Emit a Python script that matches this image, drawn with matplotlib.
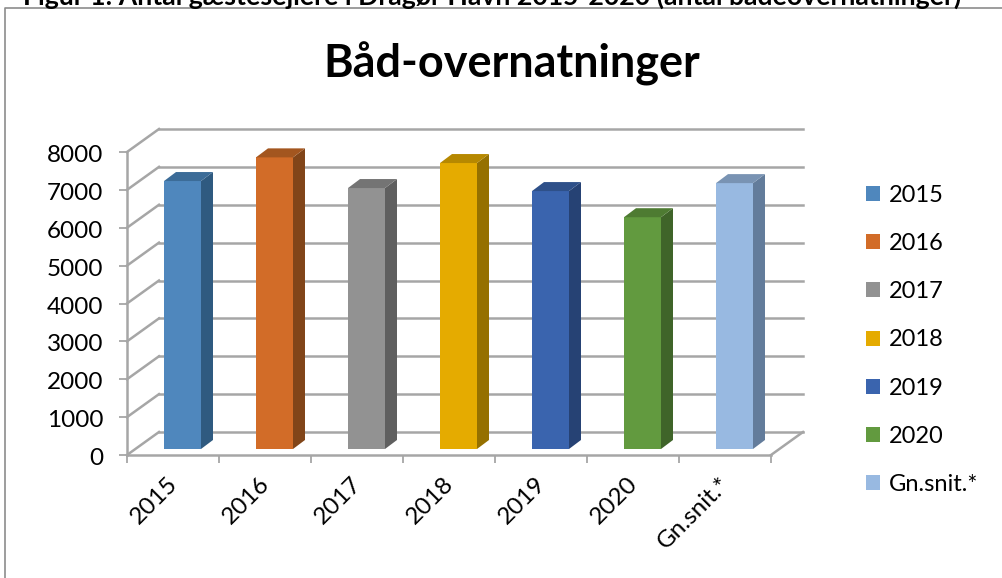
import matplotlib
matplotlib.use("Agg")
import matplotlib.pyplot as plt
from matplotlib.patches import Polygon, Patch
from matplotlib.transforms import ScaledTranslation

plt.rcParams['font.family'] = ['Lato', 'DejaVu Sans']

categories = ['2015', '2016', '2017', '2018', '2019', '2020', 'Gn.snit.*']
values = [7075, 7700, 6890, 7550, 6810, 6120, 7020]
front = ['#4f87bd', '#d26c28', '#929292', '#e5ab00', '#3a64ae', '#629a3f', '#98b9e1']
side = ['#2f5a80', '#814519', '#5f5f5f', '#957000', '#264274', '#3f6429', '#637c9b']
top = ['#3c6c98', '#a3561f', '#747474', '#b68800', '#2e5089', '#4e7b32', '#7993b3']
yticks = [0, 1000, 2000, 3000, 4000, 5000, 6000, 7000, 8000]

W, H = 1003, 578
fig = plt.figure(figsize=(W / 100, H / 100), dpi=100)
ax = fig.add_axes([127 / W, 1 - 455 / H, 644 / W, 303 / H])
ax.set_xlim(0, 7)
ax.set_ylim(0, 8000)
ax.patch.set_visible(False)

# data units per pixel, depth is faked with offsets
ux = 7 / 644
uy = 8000 / 303
wall_dx, wall_dy = 32 * ux, 23 * uy
bar_dx, bar_dy = 12 * ux, 9 * uy
base_dx, base_dy = 9.5 * ux, 6 * uy
grid = '#a6a6a6'

for v in yticks:
    ax.plot([0, wall_dx], [v, v + wall_dy], color=grid, lw=1.8, clip_on=False, zorder=1)
    ax.plot([wall_dx, 7 + wall_dx], [v + wall_dy, v + wall_dy], color=grid, lw=1.8, clip_on=False, zorder=1)
ax.plot([7, 7 + wall_dx], [0, wall_dy], color=grid, lw=1.8, clip_on=False, zorder=1)

width = 37 * ux
for i, val in enumerate(values):
    x0 = i + 0.5 + base_dx - width / 2
    x1 = x0 + width
    ax.bar(x0 + width / 2, val, width=width, bottom=base_dy, color=front[i], zorder=3)
    y1 = val + base_dy
    ax.add_patch(Polygon([(x1, base_dy), (x1 + bar_dx, base_dy + bar_dy), (x1 + bar_dx, y1 + bar_dy), (x1, y1)],
                         color=side[i], lw=0, zorder=3, clip_on=False))
    ax.add_patch(Polygon([(x0, y1), (x1, y1), (x1 + bar_dx, y1 + bar_dy), (x0 + bar_dx, y1 + bar_dy)],
                         color=top[i], lw=0, zorder=3, clip_on=False))

for s in ['top', 'right']:
    ax.spines[s].set_visible(False)
for s in ['left', 'bottom']:
    ax.spines[s].set_color(grid)
    ax.spines[s].set_linewidth(1.8)

ax.set_yticks(yticks)
ax.set_xticks(range(8))
ax.set_xticklabels([])
ax.tick_params(axis='both', color=grid, width=1.3, length=6)
ax.tick_params(axis='y', labelsize=17.5, labelcolor='black', pad=11)
# y labels sit a little below their ticks in the reference
shift = ScaledTranslation(0, -1.5 / 100, fig.dpi_scale_trans)
for label in ax.get_yticklabels():
    label.set_transform(label.get_transform() + shift)
for i, name in enumerate(categories):
    ax.annotate(name, (i + 0.5, 0), xytext=(-4.5, -13), textcoords='offset points', rotation=45,
                ha='right', va='top', rotation_mode='anchor', fontsize=17.5, color='black')

handles = [Patch(facecolor=c, edgecolor='none') for c in front]
fig.legend(handles, categories, loc='upper left', bbox_to_anchor=(866 / W, 1 - 185 / H), frameon=False,
           fontsize=17, handlelength=0.6, handleheight=0.6, handletextpad=0.38, labelspacing=1.15,
           borderpad=0, borderaxespad=0)

# chart frame and the cut off caption above it
fig.add_artist(plt.Line2D([5 / W, 5 / W, 1], [0, 1 - 8 / H, 1 - 8 / H], color='#8c8c8c', lw=1.2))
fig.text(512 / W, 1 - 64 / H, 'Båd-overnatninger', ha='center', va='center', fontsize=32.4, fontweight='bold')
fig.text(492 / W, 1 + 3.5 / H, 'Figur 1: Antal gæstesejlere i Dragør Havn 2015-2020 (antal bådeovernatninger)',
         ha='center', va='center', fontsize=19.2, fontweight='bold')

fig.savefig('out.png', dpi=100)
